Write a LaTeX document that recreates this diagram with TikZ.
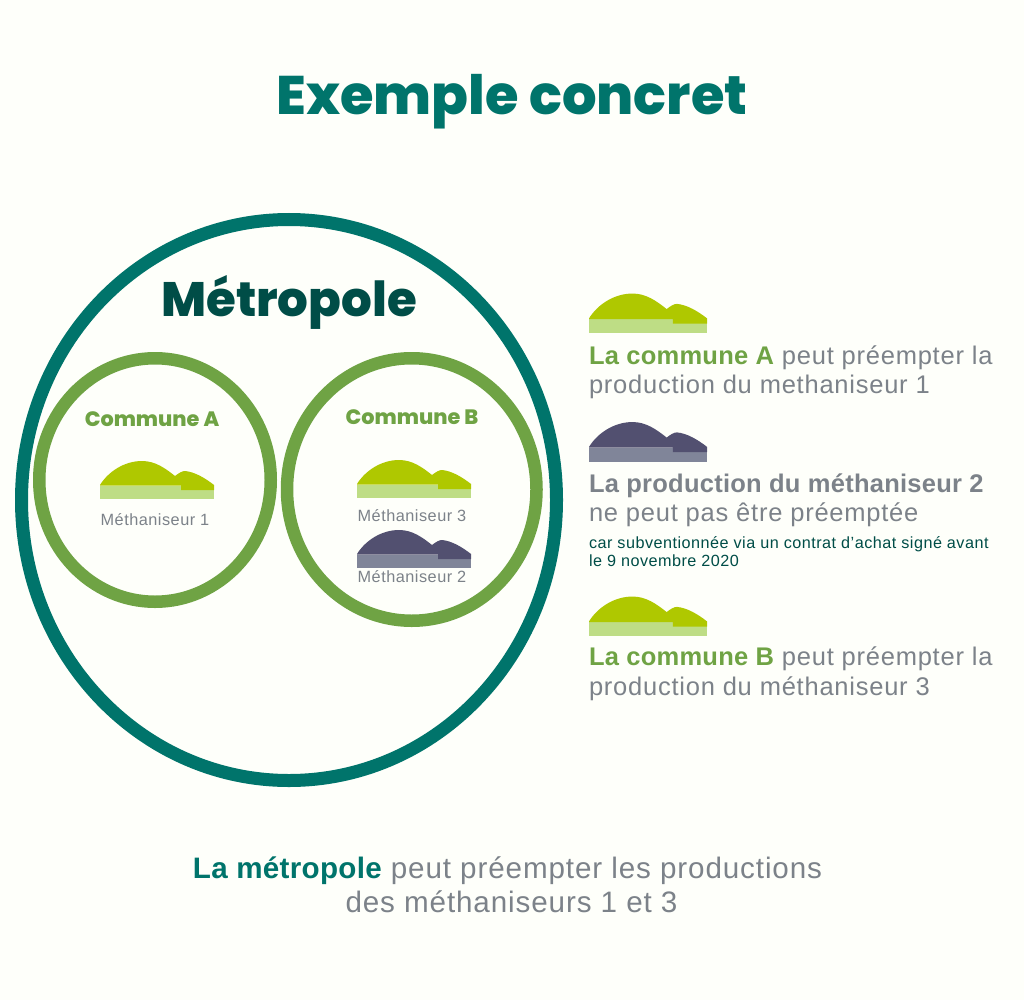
\documentclass[tikz,border=0pt]{standalone}
\usepackage{fontspec}
\usetikzlibrary{shapes.geometric}
\setmainfont{Liberation Sans}[LetterSpace=3,BoldFeatures={LetterSpace=1}]
\newfontfamily\heavy{Poppins}[UprightFont=*-ExtraBold]
\definecolor{bgc}{HTML}{FEFFFA}
\definecolor{tealc}{HTML}{00746B}
\definecolor{darkteal}{HTML}{004D47}
\definecolor{greenc}{HTML}{6FA344}
\definecolor{olive}{HTML}{AFC800}
\definecolor{lightg}{HTML}{BEDD85}
\definecolor{darkp}{HTML}{525070}
\definecolor{midp}{HTML}{808599}
\definecolor{grayt}{HTML}{7C8289}
\tikzset{
  txt/.style={anchor=base west,inner sep=0pt,outer sep=0pt,text=grayt},
  ctr/.style={anchor=base,inner sep=0pt,outer sep=0pt,text=grayt},
  ring/.style={ellipse,draw=#1,fill=none,inner sep=0pt},
  pics/plant/.style n args={2}{code={
    \fill[#2] (0,25.7) rectangle (114,39.3);
    \fill[#1] (0,25) .. controls (8,12) and (24,1) .. (42,1)
      .. controls (55,1) and (65,8) .. (75,16)
      .. controls (79,13) and (82,11) .. (85,11)
      .. controls (95,12) and (105,18) .. (114,25)
      -- (114,30) -- (81,30) -- (81,25.7) -- (0,25.7) -- cycle;
  }}
}
\newcommand{\fs}[1]{\fontsize{#1}{#1}\selectfont}
\begin{document}
\begin{tikzpicture}[x=1pt,y=-1pt]
\useasboundingbox (0,0) rectangle (1024,1000);
\fill[bgc] (0,0) rectangle (1024,1000);
\node[ctr,text=tealc,font=\heavy\fs{54.3}] (title) at (512,115) {Exemple concret};
\node[ring=tealc,line width=13pt,minimum width=535pt,minimum height=561pt] (metro) at (289,500) {};
\node[ring=greenc,line width=12.5pt,minimum width=231.5pt,minimum height=243.5pt] (communeA) at (155,480) {};
\node[ring=greenc,line width=12.5pt,minimum width=249.5pt,minimum height=262.5pt] (communeB) at (411.75,489.5) {};
\node[ctr,text=darkteal,font=\heavy\fs{48.3}] (metrolabel) at (289,316) {Métropole};
\node[ctr,text=greenc,font=\heavy\fs{20.8}] (labelA) at (152,426) {Commune A};
\node[ctr,text=greenc,font=\heavy\fs{20.8}] (labelB) at (412,424) {Commune B};
\pic at (100,460) {plant={olive}{lightg}};
\pic at (357,459) {plant={olive}{lightg}};
\pic at (357,529) {plant={darkp}{midp}};
\node[ctr,font=\fs{16.3}] (m1) at (155,525) {Méthaniseur 1};
\node[ctr,font=\fs{16.3}] (m3) at (412,521) {Méthaniseur 3};
\node[ctr,font=\fs{16.3}] (m2) at (412,582) {Méthaniseur 2};
\pic[scale=1.035] at (589,292.5) {plant={olive}{lightg}};
\pic[scale=1.035] at (589,421) {plant={darkp}{midp}};
\pic[scale=1.035] at (589,595.5) {plant={olive}{lightg}};
\node[txt,font=\fs{25.5}] (t1) at (589,364) {\textbf{\color{greenc}La commune A} peut préempter la};
\node[txt,font=\fs{25.5}] (t2) at (589,393) {production du methaniseur 1};
\node[txt,font=\fs{25.5}] (t3) at (589,492) {\textbf{La production du méthaniseur 2}};
\node[txt,font=\fs{25.5}] (t4) at (589,521) {ne peut pas être préemptée};
\node[txt,text=darkteal,font=\fs{16.2}] (t5) at (589,548) {car subventionnée via un contrat d'achat signé avant};
\node[txt,text=darkteal,font=\fs{16.2}] (t6) at (589,566) {le 9 novembre 2020};
\node[txt,font=\fs{25.5}] (t7) at (589,665) {\textbf{\color{greenc}La commune B} peut préempter la};
\node[txt,font=\fs{25.5}] (t8) at (589,695) {production du méthaniseur 3};
\node[ctr,font=\fs{29.6}] (b1) at (507.5,878) {\textbf{\color{tealc}La métropole} peut préempter les productions};
\node[ctr,font=\fs{29.6}] (b2) at (511.5,912) {des méthaniseurs 1 et 3};
\end{tikzpicture}
\end{document}
